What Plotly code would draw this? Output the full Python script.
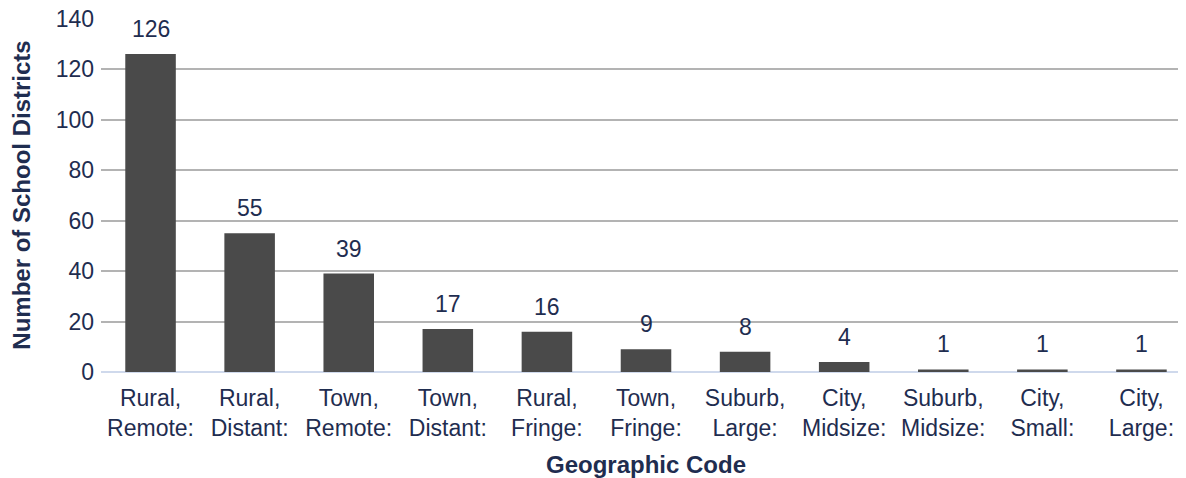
import plotly.graph_objects as go

categories = ["Rural,<br>Remote:", "Rural,<br>Distant:", "Town,<br>Remote:", "Town,<br>Distant:",
              "Rural,<br>Fringe:", "Town,<br>Fringe:", "Suburb,<br>Large:", "City,<br>Midsize:",
              "Suburb,<br>Midsize:", "City,<br>Small:", "City,<br>Large:"]
values = [126, 55, 39, 17, 16, 9, 8, 4, 1, 1, 1]
y_ticks = [0, 20, 40, 60, 80, 100, 120, 140]

TXT = "#1f2d50"
FONT = "Liberation Sans, Arial, sans-serif"

fig = go.Figure(go.Bar(
    x=categories, y=values,
    marker=dict(color="#4a4a4a", line=dict(width=0)),
    hoverinfo="skip",
))

for c, v in zip(categories, values):
    fig.add_annotation(x=c, y=v, text=str(v), showarrow=False, yanchor="bottom",
                       yshift=10, font=dict(size=23, color=TXT, family=FONT))

fig.update_layout(
    width=1186, height=478,
    margin=dict(l=93, r=3, t=10, b=114),
    plot_bgcolor="white", paper_bgcolor="white",
    bargap=0.49,
    showlegend=False,
    font=dict(family=FONT, color=TXT, size=23),
    xaxis=dict(
        automargin=False,
        showgrid=False, showline=False, zeroline=False,
        tickfont=dict(size=23, color=TXT),
        ticklabelstandoff=10,
        title=dict(text="<b>Geographic Code</b>", font=dict(size=24, color=TXT), standoff=16),
        ticks="", range=[-0.5, 10.5],
    ),
    yaxis=dict(
        automargin=False,
        range=[0, 140.3], tickvals=y_ticks,
        showgrid=True, gridcolor="#b3b3b3", gridwidth=1.5,
        zeroline=True, zerolinecolor="#cfd9ec", zerolinewidth=2,
        showline=False,
        tickfont=dict(size=23, color=TXT),
        ticklabelstandoff=6,
        ticklabeloverflow="allow",
        title=dict(text="<b>Number of School Districts</b>", font=dict(size=24, color=TXT), standoff=21),
    ),
)

fig.write_html("out.html")
